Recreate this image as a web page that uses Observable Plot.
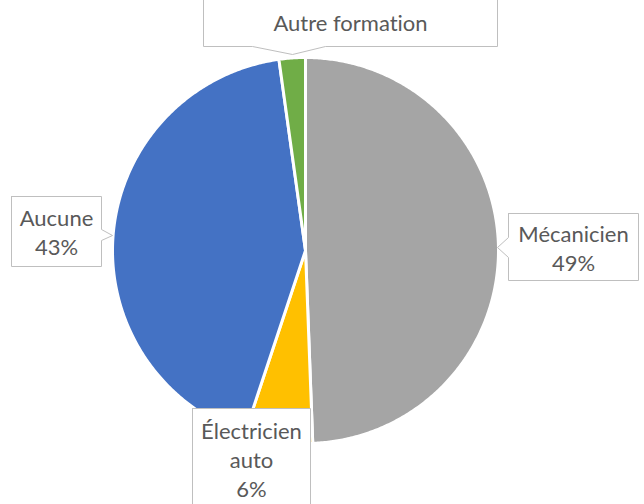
<!DOCTYPE html>
<html><head><meta charset="utf-8">
<script src="https://cdn.jsdelivr.net/npm/d3@7"></script>
<script src="https://cdn.jsdelivr.net/npm/@observablehq/plot@0.6"></script>
<style>body{margin:0;background:#fff} svg text{font-variant-ligatures:none;font-feature-settings:"liga" 0}</style>
</head><body><div id="chart"></div>
<script>
const categories = ["Mécanicien", "Électricien auto", "Aucune", "Autre formation"];
const values = [49.4, 5.7, 42.7, 2.2];
const labelNames = ["Mécanicien", "Électricien\nauto", "Aucune", "Autre formation"];
const showPercent = [true, true, true, false];
const colors = ["#A5A5A5", "#FFC000", "#4472C4", "#70AD47"];

// layout (pixels)
const cx = 305, cy = 250, r = 193;
const boxes = [
  {x1: 508, x2: 638, y1: 213, y2: 280, side: "left", a: 237, b: 257, tx: 497, ty: 247},
  {x1: 192, x2: 310, y1: 408, y2: 508, side: null},
  {x1: 11, x2: 101, y1: 196, y2: 266, side: "right", a: 229, b: 240, tx: 112, ty: 235},
  {x1: 203, x2: 497, y1: -3, y2: 46, side: "bottom", a: 252, b: 325, tx: 292, ty: 54}
];

const total = d3.sum(values);
const arcs = d3.pie().sort(null).value(d => d)(values);
const slicePts = [];
arcs.forEach((arc, i) => {
  const cat = categories[i];
  slicePts.push({cat, x: cx, y: cy});
  const n = Math.max(4, Math.ceil((arc.endAngle - arc.startAngle) / (Math.PI / 360)));
  for (let k = 0; k <= n; k++) {
    const a = arc.startAngle + (arc.endAngle - arc.startAngle) * k / n;
    slicePts.push({cat, x: cx + r * Math.sin(a), y: cy - r * Math.cos(a)});
  }
  slicePts.push({cat, x: cx, y: cy});
});

const boxPts = [];
boxes.forEach((bx, i) => {
  const id = categories[i];
  const p = (x, y) => boxPts.push({id, x, y});
  p(bx.x1, bx.y1); p(bx.x2, bx.y1);
  if (bx.side === "right") { p(bx.x2, bx.a); p(bx.tx, bx.ty); p(bx.x2, bx.b); }
  p(bx.x2, bx.y2);
  if (bx.side === "bottom") { p(bx.b, bx.y2); p(bx.tx, bx.ty); p(bx.a, bx.y2); }
  p(bx.x1, bx.y2);
  if (bx.side === "left") { p(bx.x1, bx.b); p(bx.tx, bx.ty); p(bx.x1, bx.a); }
  p(bx.x1, bx.y1);
});

const labels = boxes.map((bx, i) => ({
  text: labelNames[i] + (showPercent[i] ? "\n" + Math.round(values[i] / total * 100) + "%" : ""),
  x: (bx.x1 + bx.x2) / 2, y: (bx.y1 + bx.y2) / 2
}));

const chart = Plot.plot({
  width: 644, height: 504, margin: 0,
  style: {background: "#fff"},
  x: {domain: [0, 644], range: [0, 644], axis: null},
  y: {domain: [0, 504], range: [0, 504], axis: null},
  color: {domain: categories, range: colors},
  marks: [
    Plot.line(slicePts, {x: "x", y: "y", z: "cat", fill: "cat", stroke: "#fff", strokeWidth: 3, strokeLinejoin: "round", curve: "linear"}),
    Plot.line(boxPts, {x: "x", y: "y", z: "id", fill: "#fff", stroke: "#BFBFBF", strokeWidth: 1, curve: "linear"}),
    Plot.text(labels, {x: "x", y: "y", text: "text", fontSize: 22, lineHeight: 1.32, fill: "#595959", fontFamily: "Lato", textAnchor: "middle"})
  ]
});
document.getElementById("chart").appendChild(chart);
</script>
</body></html>
